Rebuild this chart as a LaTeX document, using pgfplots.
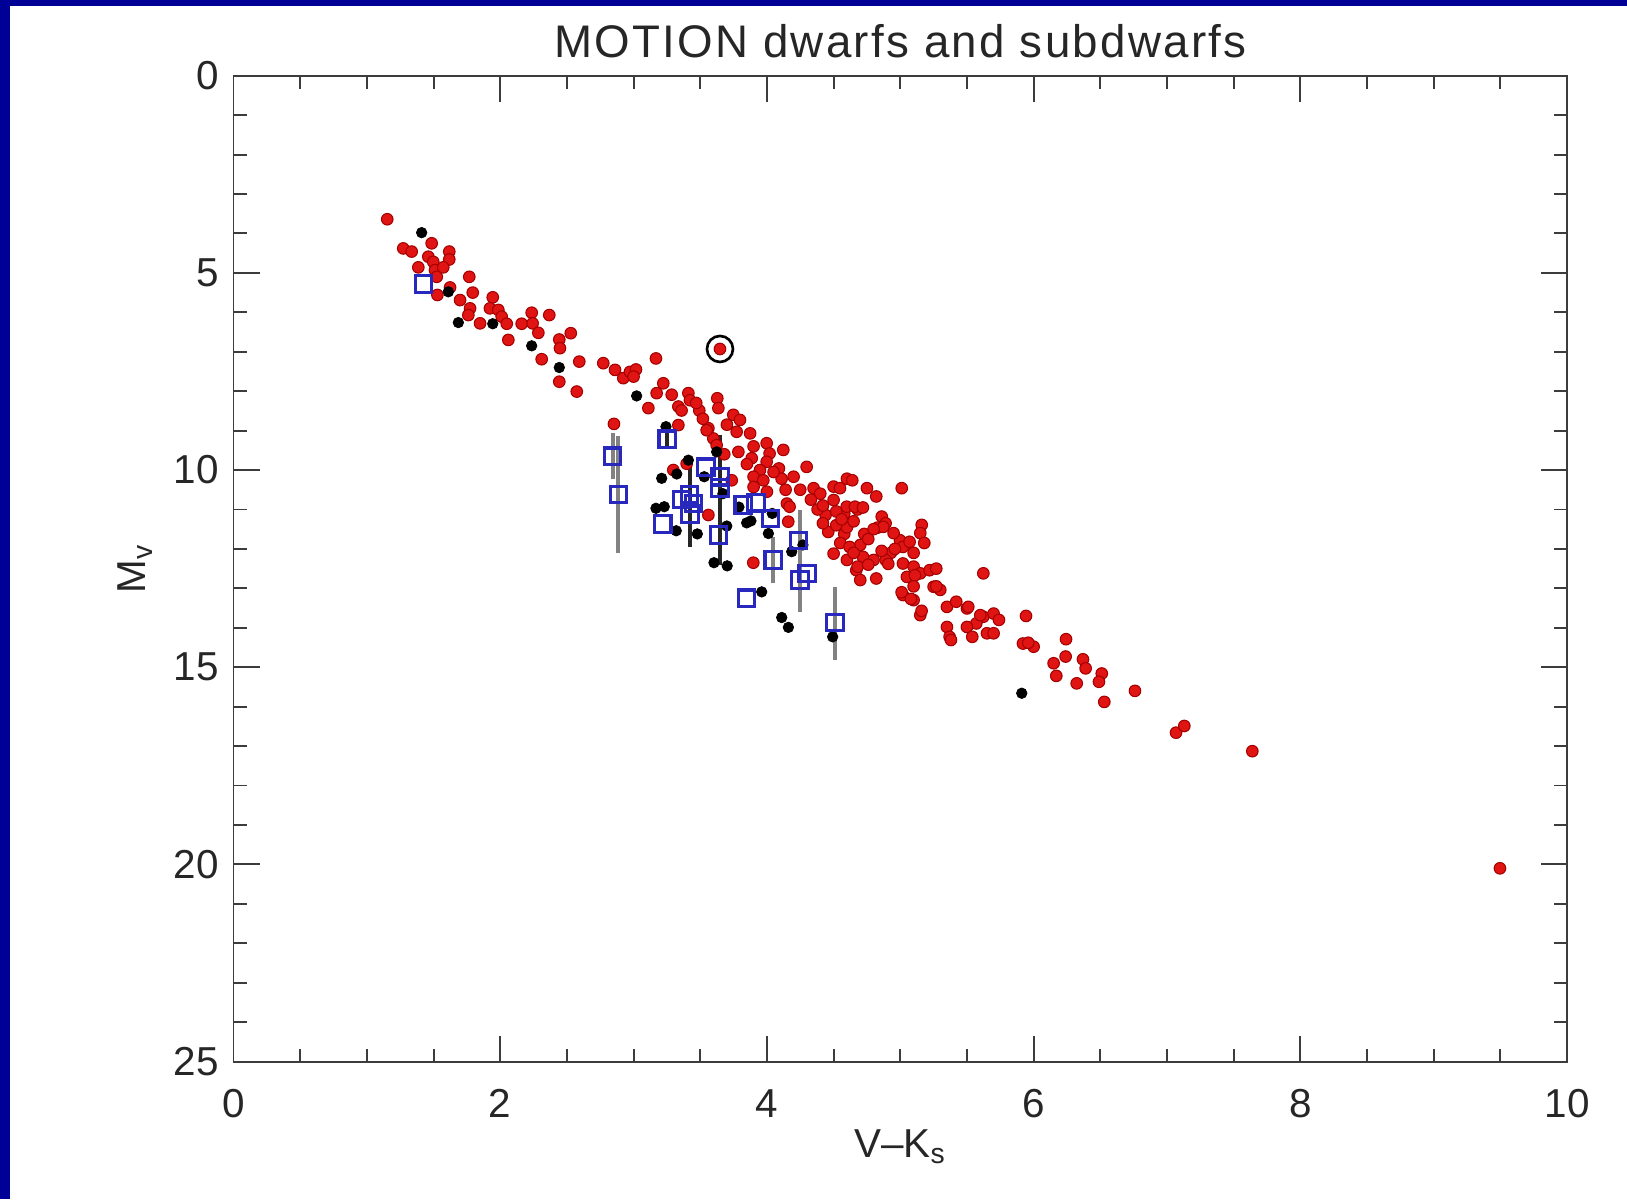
\documentclass[border=0pt]{standalone}
\usepackage{fontspec}
\setmainfont{Liberation Sans}
\usepackage{pgfplots}
\usepackage{pgfplotstable}
\pgfplotsset{compat=1.18}
\definecolor{frameblue}{RGB}{0,0,150}
\definecolor{dotred}{RGB}{225,20,20}
\definecolor{dotredrim}{RGB}{165,0,0}
\definecolor{sqblue}{RGB}{40,40,190}
\definecolor{axgray}{RGB}{60,60,60}
\definecolor{bargray}{RGB}{130,130,130}
\begin{document}
\pgfplotstableread{
x y
1.153 3.64
1.273 4.38
1.336 4.46
1.486 4.25
1.618 4.46
1.618 4.66
1.461 4.59
1.498 4.72
1.386 4.86
1.511 4.93
1.573 4.86
1.524 5.10
1.529 5.56
1.624 5.37
1.768 5.10
1.794 5.50
1.699 5.69
1.774 5.90
1.761 6.07
1.944 5.62
1.923 5.90
1.986 5.94
2.011 6.11
1.849 6.28
2.049 6.29
2.061 6.70
2.161 6.29
2.236 6.01
2.243 6.28
2.286 6.52
2.368 6.07
2.443 6.69
2.448 6.91
2.529 6.53
2.311 7.19
2.443 7.76
2.574 8.01
2.593 7.25
2.773 7.29
2.861 7.46
2.923 7.67
2.973 7.51
3.018 7.45
3.000 7.63
3.168 7.17
3.223 7.80
3.173 8.05
3.286 8.09
3.111 8.43
3.411 8.05
3.423 8.23
3.336 8.39
3.360 8.49
3.493 8.49
3.628 8.18
3.636 8.43
3.336 8.86
3.748 8.60
3.798 8.73
3.773 9.03
3.561 8.94
3.598 9.20
3.623 9.37
3.786 9.54
2.853 8.83
3.298 10.00
3.398 9.84
3.548 8.99
3.874 9.07
3.900 9.40
3.998 9.32
4.020 9.58
4.123 9.49
3.886 9.70
3.998 9.79
4.090 9.96
3.948 10.00
3.900 10.17
3.973 10.26
4.110 10.22
4.200 10.17
4.298 9.92
3.736 10.26
3.900 10.43
4.000 10.55
4.140 10.50
4.250 10.50
4.350 10.46
4.400 10.60
4.500 10.42
4.600 10.22
4.750 10.46
4.820 10.67
4.500 10.76
4.150 10.85
4.170 10.93
4.440 11.14
4.580 11.10
4.680 11.00
4.460 11.57
4.580 11.62
4.730 11.62
4.830 11.46
4.500 12.12
4.600 12.28
4.670 12.54
4.700 12.79
4.800 12.28
4.820 12.75
3.561 11.14
4.160 11.31
3.898 12.35
5.011 10.46
4.548 10.46
4.598 10.93
4.660 10.93
4.720 10.95
4.520 11.05
4.861 11.18
4.890 11.35
5.161 11.39
5.150 11.60
5.180 11.85
4.998 11.78
5.020 11.95
5.070 11.82
5.100 12.10
4.930 12.10
4.890 12.28
4.720 12.20
4.680 12.45
5.020 12.37
5.100 12.45
5.050 12.71
5.150 12.62
5.220 12.54
5.270 12.50
5.250 12.96
5.300 13.04
5.020 13.17
5.100 13.30
5.150 13.68
5.350 13.47
5.420 13.34
5.500 13.51
5.623 12.62
5.623 13.72
5.700 13.64
5.570 13.89
5.500 13.98
5.350 13.98
5.370 14.23
5.650 14.14
4.640 10.26
4.873 11.44
4.910 12.38
5.110 12.67
5.100 12.95
5.270 12.95
5.010 13.10
5.080 13.27
5.160 13.57
5.510 13.47
5.600 13.68
5.740 13.80
5.700 14.14
5.540 14.23
5.380 14.31
5.943 13.70
5.920 14.40
6.000 14.48
6.243 14.29
6.240 14.73
6.370 14.80
6.150 14.90
4.600 11.45
4.650 11.30
4.550 11.85
4.700 11.90
4.760 11.75
4.800 11.50
4.620 11.95
4.860 12.05
4.420 11.35
4.520 11.40
5.960 14.38
6.390 15.03
6.170 15.22
6.323 15.41
6.511 15.16
6.490 15.37
6.530 15.88
6.760 15.60
7.068 16.66
7.130 16.49
7.640 17.13
9.497 20.10
3.470 8.30
3.520 8.70
3.700 8.85
3.680 9.60
3.850 9.85
4.050 10.05
4.330 10.75
4.380 11.00
4.560 11.25
4.650 12.10
4.760 12.40
4.950 11.60
4.960 12.00
4.420 10.90
}\reddata
\pgfplotstableread{
x y
1.411 3.98
1.611 5.48
1.686 6.26
1.944 6.29
2.236 6.85
2.443 7.40
3.023 8.12
3.243 8.90
3.211 10.21
3.168 10.97
3.230 10.93
3.324 10.10
3.411 9.75
3.320 11.54
3.478 11.62
3.623 9.54
3.530 10.17
3.670 10.60
3.699 11.42
3.603 12.35
3.702 12.43
3.790 10.94
3.848 11.34
3.880 11.29
4.011 11.61
4.040 11.10
3.961 13.09
4.111 13.74
4.161 13.99
4.493 14.23
4.186 12.07
4.270 11.90
5.911 15.66
}\blackdata
\pgfplotstableread{
x y
1.424 5.28
2.843 9.65
2.886 10.62
3.253 9.22
3.219 11.37
3.360 10.75
3.420 10.62
3.450 10.85
3.423 11.12
3.543 9.93
3.648 10.17
3.648 10.46
3.636 11.65
3.823 10.89
3.918 10.83
4.028 11.23
4.048 12.28
3.848 13.25
4.236 11.79
4.248 12.79
4.303 12.62
4.511 13.87
}\bluedata
\begin{tikzpicture}[x=1mm,y=1mm]
\useasboundingbox (0,0) rectangle (162.7,-119.9);
\fill[frameblue] (0,0) rectangle (162.7,-119.9);
\fill[white] (1.0,-0.6) rectangle (162.7,-119.9);
\begin{axis}[
  at={(23.35mm,-7.57mm)}, anchor=north west,
  scale only axis, width=133.35mm, height=98.58mm,
  xmin=0, xmax=10, ymin=0, ymax=25, y dir=reverse,
  xtick={0,2,...,10}, ytick={0,5,...,25},
  minor x tick num=3, minor y tick num=4,
  tick align=inside, major tick length=2.6mm, minor tick length=1.3mm,
  axis line style={axgray, line width=0.55pt},
  every tick/.style={axgray, line width=0.55pt},
  /pgf/number format/assume math mode=true,
  tick label style={font=\fontsize{11.5}{13}\selectfont, black!85},
  xticklabel style={inner sep=0pt, anchor=north, yshift=-2.7mm},
  yticklabel style={inner sep=0pt, anchor=east, xshift=-1.4mm},
  every axis title shift=0pt,
  title={\addfontfeatures{LetterSpace=5}MOTION dwarfs and subdwarfs},
  title style={at={(axis description cs:0.5,1.0347)}, anchor=center, inner sep=0pt, yshift=0pt, font=\fontsize{13}{15}\selectfont, black!85},
  xlabel={V\textendash K\textsubscript{s}},
  xlabel style={at={(axis description cs:0.5,-0.0862)}, anchor=center, inner sep=0pt, font=\fontsize{11.5}{13}\selectfont, black!85},
  ylabel={M\textsubscript{v}},
  ylabel style={at={(axis description cs:-0.0739,0.5)}, anchor=center, inner sep=0pt, font=\fontsize{11.5}{13}\selectfont, black!85},
  clip=false,
]
\addplot[only marks, mark=*, mark size=1.65pt, mark options={fill=dotred, draw=dotredrim, line width=0.3pt}] table[x=x,y=y] {\reddata};
\addplot[only marks, mark=*, mark size=1.5pt, mark options={fill=black, draw=black, line width=0.2pt}] table[x=x,y=y] {\blackdata};
% error bars (gray)
\addplot[bargray, line width=1.1pt, mark=none] coordinates {(2.843,9.07) (2.843,10.23)};
\addplot[bargray, line width=1.1pt, mark=none] coordinates {(2.886,9.13) (2.886,12.11)};
\addplot[bargray, line width=1.1pt, mark=none] coordinates {(4.048,11.70) (4.048,12.87)};
\addplot[bargray, line width=1.1pt, mark=none] coordinates {(4.248,11.02) (4.248,13.59)};
\addplot[bargray, line width=1.1pt, mark=none] coordinates {(4.511,12.96) (4.511,14.82)};
% error bars (black)
\addplot[black!85, line width=1.1pt, mark=none] coordinates {(3.423,9.79) (3.423,11.94)};
\addplot[black!85, line width=1.1pt, mark=none] coordinates {(3.648,9.11) (3.648,12.41)};
\addplot[black!85, line width=1.1pt, mark=none] coordinates {(3.248,8.95) (3.248,9.45)};
\addplot[only marks, mark=square, mark size=2.35pt, mark options={draw=sqblue, line width=0.9pt, fill=none}] table[x=x,y=y] {\bluedata};
\addplot[only marks, mark=*, mark size=1.65pt, mark options={fill=dotred, draw=dotredrim, line width=0.3pt}] coordinates {(3.648,6.93)};
\addplot[only marks, mark=o, mark size=3.7pt, mark options={draw=black, line width=0.75pt}] coordinates {(3.648,6.93)};
\end{axis}
\end{tikzpicture}
\end{document}
